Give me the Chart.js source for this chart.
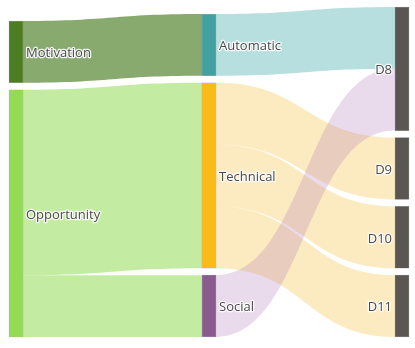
<!DOCTYPE html>
<html>
<head>
<meta charset="utf-8">
<script src="https://cdn.jsdelivr.net/npm/chart.js@4/dist/chart.umd.min.js"></script>
<style>
  html, body { margin: 0; padding: 0; background: #ffffff; }
  #c { display: block; }
</style>
</head>
<body>
<canvas id="c" width="415" height="348"></canvas>
<script>
// ---- data ----
const nodeLabels  = ['Motivation', 'Opportunity', 'Automatic', 'Technical', 'Social', 'D8', 'D9', 'D10', 'D11'];
const nodeColumns = [0, 0, 1, 1, 1, 2, 2, 2, 2];
const linkSource  = [0, 1, 1, 2, 3, 3, 3, 4];
const linkTarget  = [2, 3, 4, 5, 6, 7, 8, 5];
const linkValue   = [1, 3, 1, 1, 1, 1, 1, 1];

// ---- styles ----
const nodeColors = ['#4b7d21', '#93db55', '#43a0a0', '#fbbb16', '#8a5b8f', '#5a5652', '#5a5652', '#5a5652', '#5a5652'];
const linkColors = [
  'rgba(74,125,32,0.65)',
  'rgba(147,219,85,0.55)', 'rgba(147,219,85,0.55)',
  'rgba(67,170,170,0.38)',
  'rgba(245,190,50,0.3)', 'rgba(245,190,50,0.3)', 'rgba(245,190,50,0.3)',
  'rgba(170,110,180,0.25)'
];
const nodeGap = 0.113;

// ---- layout (in value units) ----
const n = nodeLabels.length;
const nodeValue = nodeLabels.map((_, i) => {
  let inSum = 0, outSum = 0;
  linkValue.forEach((v, k) => { if (linkTarget[k] === i) inSum += v; if (linkSource[k] === i) outSum += v; });
  return Math.max(inSum, outSum);
});
const nodeY0 = new Array(n), nodeY1 = new Array(n);
let maxTop = 0;
[0, 1, 2].forEach(col => {
  const ids = nodeLabels.map((_, i) => i).filter(i => nodeColumns[i] === col);
  let y = 0;
  for (let j = ids.length - 1; j >= 0; j--) {
    const i = ids[j];
    nodeY0[i] = y; nodeY1[i] = y + nodeValue[i];
    y = nodeY1[i] + nodeGap;
  }
  maxTop = Math.max(maxTop, y - nodeGap);
});
// link offsets
const linkSrcTop = [], linkTgtTop = [];
nodeLabels.forEach((_, i) => {
  const outs = linkValue.map((_, k) => k).filter(k => linkSource[k] === i)
    .sort((a, b) => (nodeY0[linkTarget[b]] + nodeY1[linkTarget[b]]) - (nodeY0[linkTarget[a]] + nodeY1[linkTarget[a]]));
  let t = nodeY1[i];
  outs.forEach(k => { linkSrcTop[k] = t; t -= linkValue[k]; });
  const ins = linkValue.map((_, k) => k).filter(k => linkTarget[k] === i)
    .sort((a, b) => (nodeY0[linkSource[b]] + nodeY1[linkSource[b]]) - (nodeY0[linkSource[a]] + nodeY1[linkSource[a]]));
  t = nodeY1[i];
  ins.forEach(k => { linkTgtTop[k] = t; t -= linkValue[k]; });
});

const sankeyPlugin = {
  id: 'sankeyFlows',
  beforeDatasetsDraw(chart) {
    const ctx = chart.ctx, xs = chart.scales.x, ys = chart.scales.y;
    const meta = chart.getDatasetMeta(0);
    ctx.save();
    linkValue.forEach((v, k) => {
      const s = linkSource[k], t = linkTarget[k];
      const x0 = xs.getPixelForValue(nodeColumns[s]) + meta.data[s].width / 2;
      const x1 = xs.getPixelForValue(nodeColumns[t]) - meta.data[t].width / 2;
      const a0 = ys.getPixelForValue(linkSrcTop[k]);
      const a1 = ys.getPixelForValue(linkSrcTop[k] - v);
      const b0 = ys.getPixelForValue(linkTgtTop[k]);
      const b1 = ys.getPixelForValue(linkTgtTop[k] - v);
      const xm = (x0 + x1) / 2;
      ctx.beginPath();
      ctx.moveTo(x0, a0);
      ctx.bezierCurveTo(xm, a0, xm, b0, x1, b0);
      ctx.lineTo(x1, b1);
      ctx.bezierCurveTo(xm, b1, xm, a1, x0, a1);
      ctx.closePath();
      ctx.fillStyle = linkColors[k];
      ctx.fill();
    });
    ctx.restore();
  },
  afterDatasetsDraw(chart) {
    const ctx = chart.ctx, xs = chart.scales.x, ys = chart.scales.y;
    const meta = chart.getDatasetMeta(0);
    ctx.save();
    ctx.font = '13px "Open Sans", sans-serif';
    ctx.textBaseline = 'middle';
    ctx.lineJoin = 'round';
    nodeLabels.forEach((label, i) => {
      const cx = xs.getPixelForValue(nodeColumns[i]);
      const w = meta.data[i].width / 2;
      const cy = ys.getPixelForValue((nodeY0[i] + nodeY1[i]) / 2) + 1.5;
      let x;
      if (nodeColumns[i] === 2) { ctx.textAlign = 'right'; x = cx - w - 3; }
      else { ctx.textAlign = 'left'; x = cx + w + 3; }
      ctx.strokeStyle = 'rgba(255,255,255,0.9)';
      ctx.lineWidth = 2.5;
      ctx.strokeText(label, x, cy);
      ctx.fillStyle = '#4a4a4a';
      ctx.fillText(label, x, cy);
    });
    ctx.restore();
  }
};

new Chart(document.getElementById('c'), {
  type: 'bar',
  data: {
    datasets: [{
      data: nodeLabels.map((_, i) => ({ x: nodeColumns[i], y: [nodeY0[i], nodeY1[i]] })),
      backgroundColor: nodeColors,
      borderColor: 'rgba(68,68,68,0.45)',
      borderWidth: 0.5,
      borderSkipped: false,
      barThickness: 14,
      clip: false
    }]
  },
  options: {
    responsive: false,
    animation: false,
    devicePixelRatio: 1,
    layout: { padding: { left: 16, right: 13, top: 7, bottom: 11 } },
    scales: {
      x: { type: 'linear', min: 0, max: 2, display: false, offset: false },
      y: { type: 'linear', min: 0, max: maxTop, display: false }
    },
    plugins: { legend: { display: false }, tooltip: { enabled: false } }
  },
  plugins: [sankeyPlugin]
});
</script>
</body>
</html>
